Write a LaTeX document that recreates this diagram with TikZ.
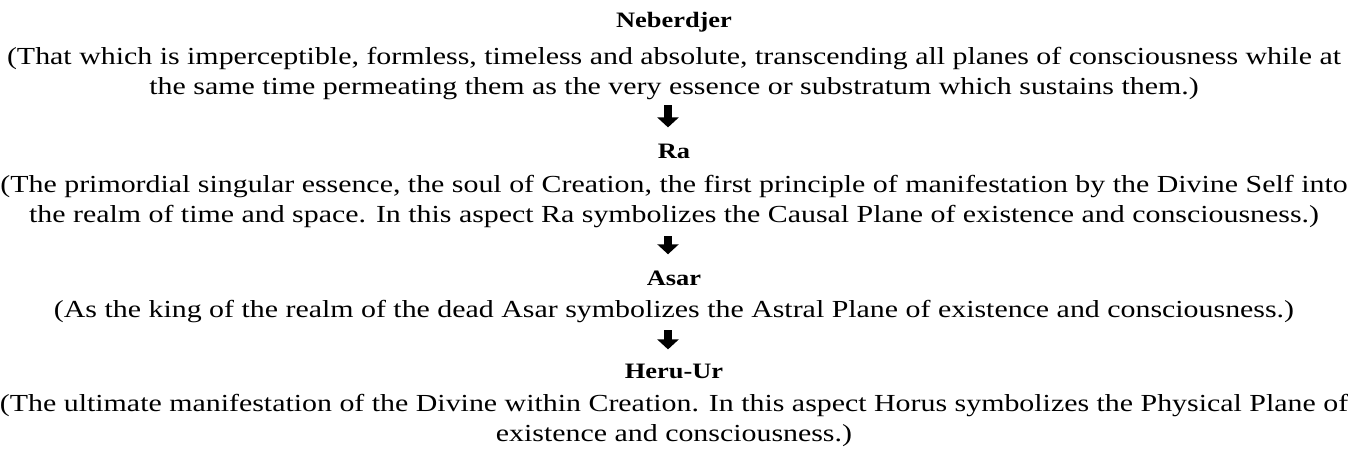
\documentclass[tikz,border=0pt]{standalone}
\usepackage{fontspec}
\setmainfont{Liberation Serif}
\usetikzlibrary{arrows.meta,positioning}
\definecolor{nbInk}{HTML}{000000}
\tikzset{
  nb title/.style={font=\fontsize{22}{27}\selectfont\bfseries, text=nbInk, inner sep=0pt, anchor=base, xscale=1.2, transform shape},
  nb text/.style={font=\fontsize{24.5}{30}\selectfont, text=nbInk, inner sep=0pt, anchor=base, align=center, xscale=1.22, transform shape},
  nb arrow/.style={
    draw=nbInk,
    line width=8pt,
    -{Triangle[length=10pt,width=21pt]}
  }
}
\begin{document}
\begin{tikzpicture}[x=1pt,y=1pt]
  \useasboundingbox (0,0) rectangle (1348,-452);

  \node[nb title] (neb) at (674,-28) {Neberdjer};
  \node[nb text] (nebtxt) at (674,-94) {(That which is imperceptible, formless, timeless and absolute, transcending all planes of consciousness while at\\the same time permeating them as the very essence or substratum which sustains them.)};

  \node[nb title] (ra) at (674,-158) {Ra};
  \node[nb text] (ratxt) at (674,-222) {(The primordial singular essence, the soul of Creation, the first principle of manifestation by the Divine Self into\\the realm of time and space. In this aspect Ra symbolizes the Causal Plane of existence and consciousness.)};

  \node[nb title] (asar) at (674,-285) {Asar};
  \node[nb text] (asartxt) at (674,-317) {(As the king of the realm of the dead Asar symbolizes the Astral Plane of existence and consciousness.)};

  \node[nb title] (heru) at (674,-378) {Heru-Ur};
  \node[nb text] (herutxt) at (674,-441) {(The ultimate manifestation of the Divine within Creation. In this aspect Horus symbolizes the Physical Plane of\\existence and consciousness.)};

  % down arrows between the planes
  \draw[nb arrow] ([xshift=-6pt,yshift=-6pt]nebtxt.south) -- ([xshift=-6pt,yshift=16pt]ra.north);
  \draw[nb arrow] ([xshift=-6pt,yshift=-9pt]ratxt.south) -- ([xshift=-6pt,yshift=16pt]asar.north);
  \draw[nb arrow] ([xshift=-6pt,yshift=-8pt]asartxt.south) -- ([xshift=-6pt,yshift=14pt]heru.north);
\end{tikzpicture}
\end{document}
